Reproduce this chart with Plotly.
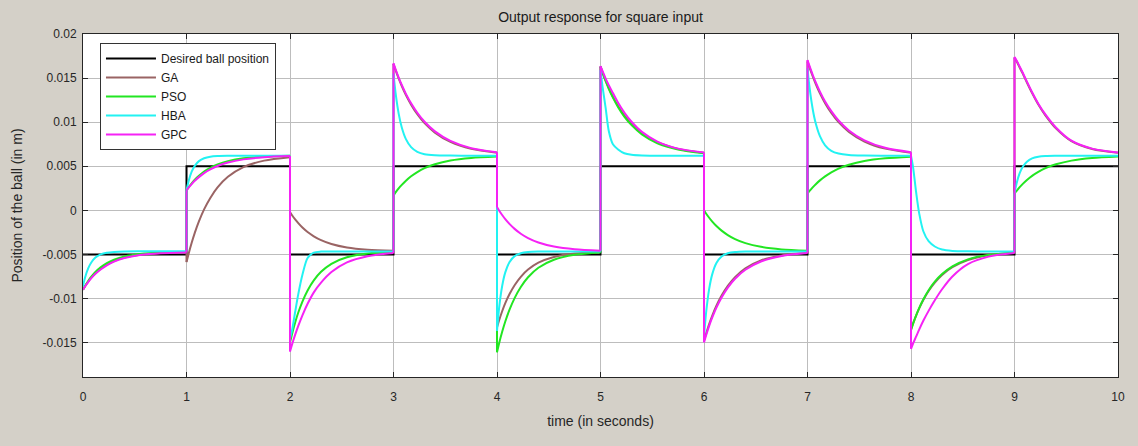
import plotly.graph_objects as go

# time offsets (s) inside each 1-second half period, where values were read
OFFSETS = [0, 0.02, 0.05, 0.08, 0.12, 0.17, 0.23, 0.3, 0.4, 0.55, 0.75, 1.0]
SEGMENT_STARTS = [0, 1, 2, 3, 4, 5, 6, 7, 8, 9]

# desired square reference (mm), one level per 1 s segment
DESIRED_MM = [-5, 5, -5, 5, -5, 5, -5, 5, -5, 5]

# responses in mm, one list per segment, values at OFFSETS
GA_MM = [
    [-9.0, -8.61, -8.09, -7.64, -7.14, -6.62, -6.15, -5.75, -5.36, -5.03, -4.84, -4.76],
    [-5.87, -4.94, -3.68, -2.55, -1.25, 0.11, 1.41, 2.60, 3.80, 4.90, 5.64, 6.03],
    [-0.19, -0.55, -1.03, -1.45, -1.95, -2.46, -2.94, -3.38, -3.82, -4.21, -4.46, -4.59],
    [16.6, 15.90, 14.96, 14.09, 13.07, 11.99, 10.90, 9.89, 8.82, 7.76, 6.98, 6.53],
    [-13.26, -12.48, -11.44, -10.53, -9.52, -8.49, -7.54, -6.72, -5.94, -5.29, -4.90, -4.73],
    [16.3, 15.62, 14.70, 13.87, 12.88, 11.83, 10.77, 9.79, 8.75, 7.72, 6.96, 6.52],
    [-14.8, -13.99, -12.89, -11.93, -10.81, -9.65, -8.55, -7.57, -6.58, -5.68, -5.11, -4.82],
    [16.9, 16.18, 15.21, 14.32, 13.27, 12.16, 11.04, 10.0, 8.90, 7.81, 7.0, 6.54],
    [-13.5, -12.82, -11.90, -11.08, -10.13, -9.14, -8.19, -7.32, -6.45, -5.64, -5.10, -4.82],
    [17.3, 16.9, 16.2, 15.5, 14.5, 13.3, 12.0, 10.75, 9.3, 7.85, 6.95, 6.52],
]
PSO_MM = [
    [-9.0, -8.57, -8.01, -7.52, -6.99, -6.46, -5.98, -5.59, -5.22, -4.94, -4.78, -4.72],
    [2.27, 2.61, 3.07, 3.47, 3.93, 4.40, 4.83, 5.21, 5.58, 5.90, 6.09, 6.18],
    [-15.0, -14.02, -12.71, -11.59, -10.34, -9.08, -7.94, -6.97, -6.06, -5.32, -4.90, -4.73],
    [1.7, 2.03, 2.49, 2.89, 3.36, 3.86, 4.34, 4.78, 5.23, 5.66, 5.95, 6.11],
    [-16.1, -15.10, -13.78, -12.61, -11.30, -9.95, -8.69, -7.59, -6.51, -5.60, -5.04, -4.78],
    [16.3, 15.60, 14.64, 13.79, 12.78, 11.70, 10.64, 9.66, 8.62, 7.61, 6.90, 6.48],
    [0.0, -0.36, -0.84, -1.28, -1.78, -2.30, -2.80, -3.26, -3.72, -4.14, -4.43, -4.58],
    [1.9, 2.20, 2.61, 2.97, 3.40, 3.86, 4.31, 4.73, 5.17, 5.60, 5.90, 6.08],
    [-13.6, -12.88, -11.92, -11.07, -10.09, -9.06, -8.09, -7.23, -6.35, -5.56, -5.05, -4.80],
    [1.9, 2.2, 2.63, 3.0, 3.44, 3.91, 4.36, 4.79, 5.22, 5.64, 5.93, 6.1],
]
HBA_MM = [
    [-8.6, -7.62, -6.59, -5.91, -5.36, -5.00, -4.80, -4.71, -4.66, -4.65, -4.65, -4.65],
    [2.27, 3.31, 4.38, 5.05, 5.58, 5.91, 6.09, 6.16, 6.19, 6.2, 6.2, 6.2],
    [-14.5, -13.6, -11.5, -9.5, -7.3, -5.4, -4.8, -4.68, -4.66, -4.66, -4.66, -4.66],
    [15.5, 13.32, 10.97, 9.40, 8.08, 7.17, 6.64, 6.37, 6.25, 6.21, 6.2, 6.2],
    [-13.66, -11.11, -8.58, -7.04, -5.88, -5.19, -4.86, -4.72, -4.67, -4.66, -4.66, -4.66],
    [15.9, 14.0, 11.6, 9.0, 7.5, 6.91, 6.48, 6.30, 6.22, 6.2, 6.2, 6.2],
    [-14.4, -11.64, -8.90, -7.23, -5.97, -5.23, -4.87, -4.73, -4.67, -4.66, -4.66, -4.66],
    [16.1, 13.91, 11.50, 9.84, 8.41, 7.38, 6.75, 6.44, 6.27, 6.21, 6.2, 6.2],
    [6.2, 4.9, 2.0, -0.4, -2.4, -3.5, -4.1, -4.45, -4.6, -4.65, -4.66, -4.66],
    [1.9, 3.04, 4.21, 4.94, 5.52, 5.89, 6.08, 6.16, 6.19, 6.2, 6.2, 6.2],
]
GPC_MM = [
    [-9.0, -8.63, -8.13, -7.69, -7.20, -6.70, -6.23, -5.82, -5.41, -5.07, -4.86, -4.77],
    [2.27, 2.57, 2.98, 3.35, 3.77, 4.22, 4.64, 5.03, 5.42, 5.78, 6.02, 6.15],
    [-16.0, -15.2, -14.1, -13.1, -11.9, -10.6, -9.3, -8.2, -7.0, -5.9, -5.2, -4.85],
    [16.67, 16.0, 15.06, 14.22, 13.21, 12.14, 11.07, 10.05, 8.96, 7.88, 7.06, 6.58],
    [0.38, -0.01, -0.53, -1.00, -1.54, -2.10, -2.65, -3.14, -3.64, -4.10, -4.41, -4.57],
    [16.36, 15.8, 14.95, 14.2, 13.3, 12.2, 11.1, 10.05, 8.9, 7.8, 7.0, 6.55],
    [-14.97, -14.18, -13.10, -12.15, -11.04, -9.89, -8.77, -7.76, -6.74, -5.80, -5.18, -4.85],
    [17.05, 16.36, 15.38, 14.51, 13.47, 12.35, 11.25, 10.19, 9.06, 7.94, 7.09, 6.59],
    [-15.7, -15.1, -14.3, -13.5, -12.5, -11.4, -10.2, -8.95, -7.5, -6.1, -5.25, -4.85],
    [17.4, 17.0, 16.3, 15.6, 14.6, 13.4, 12.1, 10.85, 9.4, 7.9, 7.0, 6.55],
]

SERIES_NAMES = ["GA", "PSO", "HBA", "GPC"]
SERIES_DATA = [GA_MM, PSO_MM, HBA_MM, GPC_MM]
SERIES_COLORS = ["#9a6464", "#22e622", "#22f2f2", "#f522f5"]

Y_TICKS = [-0.015, -0.01, -0.005, 0, 0.005, 0.01, 0.015, 0.02]
Y_TICK_TEXT = ["-0.015", "-0.01", "-0.005", "0", "0.005", "0.01", "0.015", "0.02"]
X_TICKS = [0, 1, 2, 3, 4, 5, 6, 7, 8, 9, 10]

FONT = "Liberation Sans, Arial, Helvetica, sans-serif"
TEXT_COLOR = "#262626"
BG = "#d4d0c8"

fig = go.Figure()

# desired square wave
dx, dy = [], []
for k, lvl in zip(SEGMENT_STARTS, DESIRED_MM):
    dx += [k, k + 1]
    dy += [lvl * 1e-3, lvl * 1e-3]
fig.add_trace(go.Scatter(x=dx, y=dy, mode="lines", name="Desired ball position",
                         line=dict(color="#000000", width=2)))

for name, data, color in zip(SERIES_NAMES, SERIES_DATA, SERIES_COLORS):
    # smooth curve pieces (one per segment, separated by gaps)
    xs, ys = [], []
    for k, seg in zip(SEGMENT_STARTS, data):
        for off, v in zip(OFFSETS, seg):
            xs.append(k + off)
            ys.append(v * 1e-3)
        xs.append(None)
        ys.append(None)
    # straight vertical jumps between consecutive segments
    jx, jy = [], []
    for i in range(1, len(data)):
        k = SEGMENT_STARTS[i]
        jx += [k, k, None]
        jy += [data[i - 1][-1] * 1e-3, data[i][0] * 1e-3, None]
    fig.add_trace(go.Scatter(x=jx, y=jy, mode="lines", name=name, legendgroup=name,
                             showlegend=False, line=dict(color=color, width=2),
                             hoverinfo="skip"))
    fig.add_trace(go.Scatter(x=xs, y=ys, mode="lines", name=name, legendgroup=name,
                             connectgaps=False,
                             line=dict(color=color, width=2, shape="spline",
                                       smoothing=0.8)))

axis_common = dict(
    showline=True, linecolor=TEXT_COLOR, linewidth=1, mirror="allticks",
    ticks="inside", ticklen=5, tickcolor=TEXT_COLOR,
    showgrid=True, gridcolor="#bdbdbd", gridwidth=1, zeroline=False,
    tickfont=dict(family=FONT, size=12, color=TEXT_COLOR),
)

fig.update_layout(
    width=1138, height=446,
    margin=dict(l=83, r=20, t=34, b=69),
    paper_bgcolor=BG, plot_bgcolor="#ffffff",
    font=dict(family=FONT, size=12, color=TEXT_COLOR),
    title=dict(text="Output response for square input", x=0.5, xref="paper",
               y=1 - 17 / 446, yref="container", yanchor="middle",
               font=dict(family=FONT, size=14, color="#1a1a1a")),
    xaxis=dict(range=[0, 10], tickvals=X_TICKS, ticklabelstandoff=9,
               title=dict(text="time (in seconds)", standoff=12,
                          font=dict(family=FONT, size=14, color=TEXT_COLOR)),
               **axis_common),
    yaxis=dict(range=[-0.0189, 0.02], tickvals=Y_TICKS, ticktext=Y_TICK_TEXT,
               ticklabelstandoff=3,
               title=dict(text="Position of the ball (in m)", standoff=16,
                          font=dict(family=FONT, size=14, color=TEXT_COLOR)),
               **axis_common),
    legend=dict(x=0.0164, y=0.974, xanchor="left", yanchor="top",
                bgcolor="#ffffff", bordercolor="#333333", borderwidth=1,
                font=dict(family=FONT, size=12, color="#1a1a1a"),
                itemwidth=50, tracegroupgap=0),
    showlegend=True,
)

fig.write_html(
    "out.html",
    config={"displayModeBar": False},
    post_script="document.body.style.margin='0';document.body.style.padding='0';"
                "document.body.style.background='" + BG + "';"
                "document.documentElement.style.overflow='hidden';",
)
